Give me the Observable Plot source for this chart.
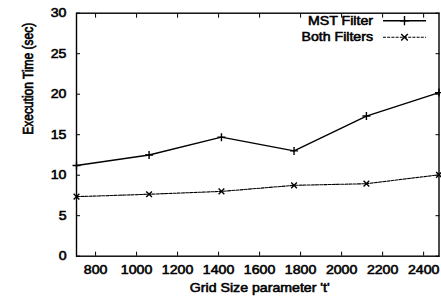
<!DOCTYPE html>
<html>
<head>
<meta charset="utf-8">
<script src="https://cdn.jsdelivr.net/npm/d3@7"></script>
<script src="https://cdn.jsdelivr.net/npm/@observablehq/plot@0.6"></script>
<style>
  html, body { margin: 0; padding: 0; background: #fff; }
  #chart svg { display: block; }
</style>
</head>
<body>
<div id="chart"></div>
<script>
const gridSize = [707, 1061, 1414, 1768, 2121, 2475];
const mstFilter = [11.2, 12.5, 14.7, 13.0, 17.3, 20.2];
const bothFilters = [7.35, 7.65, 8.0, 8.75, 8.95, 10.05];
const seriesNames = ["MST Filter", "Both Filters"];
const xTicks = [800, 1000, 1200, 1400, 1600, 1800, 2000, 2200, 2400];
const yTicks = [0, 5, 10, 15, 20, 25, 30];
const xLabel = "Grid Size parameter 't'";
const yLabel = "Execution Time (sec)";

const mst = gridSize.map((x, i) => ({x, y: mstFilter[i]}));
const both = gridSize.map((x, i) => ({x, y: bothFilters[i]}));

const font = "Liberation Sans, Arial, Helvetica, sans-serif";
const fmt = d3.format("d");

const plot = Plot.plot({
  width: 441,
  height: 300,
  marginLeft: 76,
  marginRight: 2.5,
  marginTop: 12.7,
  marginBottom: 44.3,
  style: {fontFamily: font, fontSize: "12px", color: "#000", background: "#fff"},
  x: {domain: [707, 2475]},
  y: {domain: [0, 30]},
  marks: [
    Plot.axisX({ticks: xTicks, tickSize: 0, tickPadding: 9, tickFormat: fmt, label: null, fontSize: 12}),
    Plot.axisX({ticks: xTicks, tickSize: -4, tickFormat: () => "", label: null}),
    Plot.axisX({anchor: "top", ticks: xTicks, tickSize: -4, tickFormat: () => "", label: null}),
    Plot.axisY({ticks: yTicks, tickSize: 0, tickPadding: 10, tickFormat: fmt, label: null, fontSize: 12}),
    Plot.axisY({ticks: yTicks, tickSize: -4, tickFormat: () => "", label: null}),
    Plot.axisY({anchor: "right", ticks: yTicks, tickSize: -4, tickFormat: () => "", label: null}),
    Plot.line(mst, {x: "x", y: "y", stroke: "#000", strokeWidth: 1.4}),
    Plot.dot(mst, {x: "x", y: "y", symbol: "plus", r: 2.7, stroke: "#000", strokeWidth: 1.4}),
    Plot.line(both, {x: "x", y: "y", stroke: "#000", strokeWidth: 1.1, strokeDasharray: "3,1.2"}),
    Plot.dot(both, {x: "x", y: "y", symbol: "times", r: 2.7, stroke: "#000", strokeWidth: 1.4}),
    Plot.frame({stroke: "#000", strokeWidth: 1.4}),
    Plot.text([xLabel], {frameAnchor: "bottom", dx: 2, dy: 36, fontSize: 12, fill: "#000"}),
    Plot.text([yLabel], {frameAnchor: "left", dx: -48, rotate: -90, fontSize: 12, fill: "#000"})
  ]
});

document.getElementById("chart").appendChild(plot);

// Legend (inside top-right)
const svg = d3.select(plot);
const leg = svg.append("g").attr("font-family", font).attr("font-size", 12);
const items = [
  {name: seriesNames[0], y: 20.7, dash: null, sym: d3.symbolPlus, sw: 1.4},
  {name: seriesNames[1], y: 37.3, dash: "3,1.2", sym: d3.symbolTimes, sw: 1.1}
];
items.forEach(it => {
  leg.append("text").attr("x", 373).attr("y", it.y).attr("text-anchor", "end")
    .attr("dominant-baseline", "central").attr("fill", "#000").text(it.name);
  leg.append("line").attr("x1", 383).attr("x2", 426).attr("y1", it.y).attr("y2", it.y)
    .attr("stroke", "#000").attr("stroke-width", it.sw).attr("stroke-dasharray", it.dash);
  leg.append("path").attr("d", d3.symbol(it.sym, 30)()).attr("transform", `translate(404.5,${it.y})`)
    .attr("fill", "none").attr("stroke", "#000").attr("stroke-width", 1.4);
});

// Stretch text horizontally and thicken slightly (like the rasterized Helvetica)
svg.selectAll("text").each(function() {
  const t = d3.select(this);
  const tr = t.attr("transform") || "";
  const x = +t.attr("x") || 0, y = +t.attr("y") || 0;
  if (/rotate/.test(tr)) {
    t.attr("transform", tr + " scale(1,1.18)");
  } else {
    t.attr("transform", `${tr} translate(${x},${y}) scale(1.18,1) translate(${-x},${-y})`);
  }
  t.attr("stroke", "#000").attr("stroke-width", 0.55);
});
</script>
</body>
</html>
